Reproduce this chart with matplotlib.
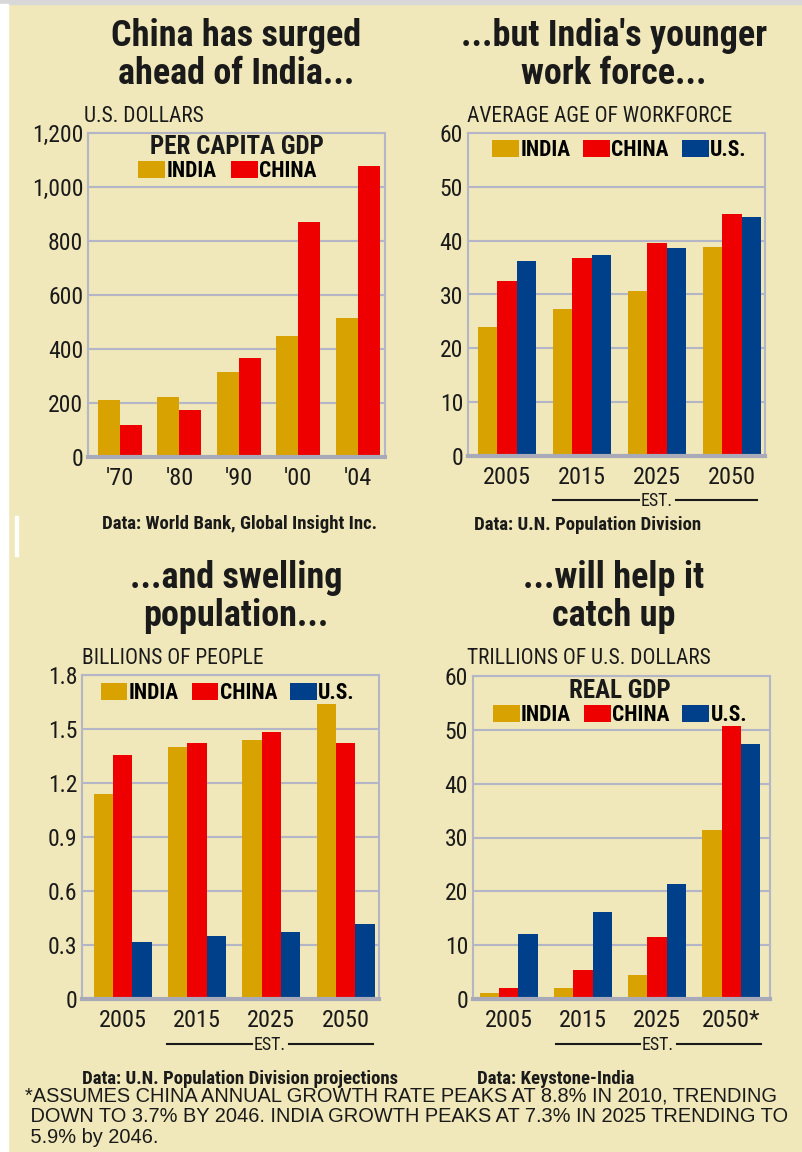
import numpy as np
from matplotlib import pyplot as plt
from matplotlib import font_manager
from matplotlib.patches import Rectangle

# Data
gdp_years = ["'70", "'80", "'90", "'00", "'04"]
gdp_india = [212, 221, 316, 449, 516]
gdp_china = [119, 175, 365, 869, 1078]

years = ['2005', '2015', '2025', '2050']
gdp_years_real = ['2005', '2015', '2025', '2050*']

age_india = [23.9, 27.3, 30.6, 38.8]
age_china = [32.5, 36.8, 39.6, 44.9]
age_us = [36.3, 37.3, 38.6, 44.4]

pop_india = [1.14, 1.40, 1.44, 1.64]
pop_china = [1.355, 1.424, 1.481, 1.424]
pop_us = [0.319, 0.348, 0.375, 0.417]

real_india = [1.1, 2.1, 4.4, 31.4]
real_china = [2.1, 5.3, 11.5, 50.7]
real_us = [12.0, 16.2, 21.4, 47.4]

INDIA = '#D8A200'
CHINA = '#EE0000'
US = '#00408A'
BG = '#F0E8BA'
GRID = '#B4B6C8'
TEXT = '#1A1A1A'

# pick a narrow face if the machine has one
names = {f.name for f in font_manager.fontManager.ttflist}
COND = 'Liberation Sans'
for cand in ['Roboto Condensed', 'Liberation Sans Narrow', 'Open Sans Condensed']:
    if cand in names:
        COND = cand
        break
plt.rcParams['font.family'] = [COND, 'DejaVu Sans']

W, H = 802, 1152
fig = plt.figure(figsize=(W / 100, H / 100), dpi=100, facecolor=BG)

# thin gray strip on top and white strip at left, like the scan
fig.patches.append(Rectangle((0, 1 - 4 / H), 1, 4 / H, transform=fig.transFigure,
                             color='#D8D8D8', zorder=0))
fig.patches.append(Rectangle((0, 0), 8 / W, 1 - 4 / H, transform=fig.transFigure,
                             color='#FFFFFF', zorder=0))
fig.patches.append(Rectangle((15 / W, 1 - 556 / H), 3 / W, 40 / H, transform=fig.transFigure,
                             color='#FFFFFF', zorder=0))


def fx(x):
    return x / W


def fy(y):
    return 1 - y / H


def make_axes(left, top, right, bottom):
    ax = fig.add_axes([fx(left), fy(bottom), fx(right) - fx(left), (bottom - top) / H])
    ax.set_facecolor(BG)
    for side in ['left', 'right', 'top']:
        ax.spines[side].set_color(GRID)
        ax.spines[side].set_linewidth(1.5)
    ax.spines['bottom'].set_color('#A8AABA')
    ax.spines['bottom'].set_linewidth(3)
    ax.grid(axis='y', color=GRID, linewidth=1.5)
    ax.set_axisbelow(True)
    ax.tick_params(length=0, colors=TEXT)
    ax.tick_params(axis='x', labelsize=17.5, pad=7)
    ax.tick_params(axis='y', labelsize=17, pad=3.5)
    return ax


def grouped_bars(ax, cats, series, colors, labels, width, xlim):
    x = np.arange(len(cats))
    n = len(series)
    for i, (vals, col, lab) in enumerate(zip(series, colors, labels)):
        ax.bar(x + (i - (n - 1) / 2) * width, vals, width, color=col, label=lab, zorder=2)
    ax.set_xticks(x)
    ax.set_xticklabels(cats)
    ax.set_xlim(*xlim)


def legend(ax, x, y, spacing=0.6):
    ax.legend(loc='center', bbox_to_anchor=(x, y), ncol=3, frameon=False,
              prop={'size': 15.5, 'weight': 'bold'}, handlelength=1.25, handleheight=0.85,
              handletextpad=0.05, columnspacing=spacing, borderaxespad=0, borderpad=0)


def est_line(x0, x1, y, xt):
    fig.add_artist(plt.Line2D([fx(x0), fx(xt - 18)], [fy(y), fy(y)], color=TEXT, lw=1.5))
    fig.add_artist(plt.Line2D([fx(xt + 19), fx(x1)], [fy(y), fy(y)], color=TEXT, lw=1.5))
    fig.text(fx(xt), fy(y + 1), 'EST.', ha='center', va='center', fontsize=13, color=TEXT)


def title(x, y, s):
    fig.text(fx(x), fy(y), s, ha='center', va='center', fontsize=26,
             weight='bold', color=TEXT, linespacing=1.05)


def small(x, y, s, size=15.5, weight='normal'):
    fig.text(fx(x), fy(y), s, ha='left', va='center', fontsize=size, color=TEXT,
             weight=weight)


# Panel 1: per capita GDP
ax1 = make_axes(88, 133, 385, 457)
grouped_bars(ax1, gdp_years, [gdp_india, gdp_china], [INDIA, CHINA], ['INDIA', 'CHINA'],
             0.37, (-0.54, 4.46))
ax1.set_ylim(0, 1200)
ax1.set_yticks(np.arange(0, 1201, 200))
ax1.set_yticklabels(['0', '200', '400', '600', '800', '1,000', '1,200'])
legend(ax1, 0.47, 0.882, 0.7)
ax1.text(0.5, 0.958, 'PER CAPITA GDP', transform=ax1.transAxes, ha='center', va='center',
         fontsize=18, weight='bold', color=TEXT)
title(236, 55, 'China has surged\nahead of India...')
small(84, 117, 'U.S. DOLLARS')
small(102, 524, 'Data: World Bank, Global Insight Inc.', 13.5, 'bold')

# Panel 2: average age of workforce
ax2 = make_axes(468, 133, 765, 456)
grouped_bars(ax2, years, [age_india, age_china, age_us], [INDIA, CHINA, US],
             ['INDIA', 'CHINA', 'U.S.'], 0.26, (-0.52, 3.44))
ax2.set_ylim(0, 60)
ax2.set_yticks(np.arange(0, 61, 10))
legend(ax2, 0.51, 0.947)
title(614, 55, "...but India's younger\nwork force...")
small(467, 117, 'AVERAGE AGE OF WORKFORCE')
est_line(553, 757, 500, 657)
small(474, 525, 'Data: U.N. Population Division', 13.5, 'bold')

# Panel 3: population
ax3 = make_axes(82, 675, 379, 999)
grouped_bars(ax3, years, [pop_india, pop_china, pop_us], [INDIA, CHINA, US],
             ['INDIA', 'CHINA', 'U.S.'], 0.26, (-0.55, 3.45))
ax3.set_ylim(0, 1.8)
ax3.set_yticks(np.arange(0, 1.81, 0.3))
ax3.set_yticklabels(['0', '0.3', '0.6', '0.9', '1.2', '1.5', '1.8'])
legend(ax3, 0.49, 0.944)
title(236, 597, '...and swelling\npopulation...')
small(82, 659, 'BILLIONS OF PEOPLE')
est_line(167, 373, 1044, 270)
small(82, 1079, 'Data: U.N. Population Division projections', 13.5, 'bold')

# Panel 4: real GDP
ax4 = make_axes(473, 676, 770, 999)
grouped_bars(ax4, gdp_years_real, [real_india, real_china, real_us], [INDIA, CHINA, US],
             ['INDIA', 'CHINA', 'U.S.'], 0.26, (-0.48, 3.52))
ax4.set_ylim(0, 60)
ax4.set_yticks(np.arange(0, 61, 10))
legend(ax4, 0.495, 0.88)
ax4.text(0.495, 0.955, 'REAL GDP', transform=ax4.transAxes, ha='center', va='center',
         fontsize=18, weight='bold', color=TEXT)
title(614, 597, '...will help it\ncatch up')
small(467, 659, 'TRILLIONS OF U.S. DOLLARS')
est_line(556, 761, 1044, 658)
small(477, 1079, 'Data: Keystone-India', 13.5, 'bold')

# footnote
note = ['*ASSUMES CHINA ANNUAL GROWTH RATE PEAKS AT 8.8% IN 2010, TRENDING',
        ' DOWN TO 3.7% BY 2046. INDIA GROWTH PEAKS AT 7.3% IN 2025 TRENDING TO',
        ' 5.9% by 2046.']
for i, line in enumerate(note):
    fig.text(fx(25), fy(1102 + i * 20.5), line, ha='left', va='baseline', color=TEXT,
             fontsize=14.4, family=['Liberation Sans', 'DejaVu Sans'])

plt.savefig('out.png', dpi=100, facecolor=BG)
plt.close()
